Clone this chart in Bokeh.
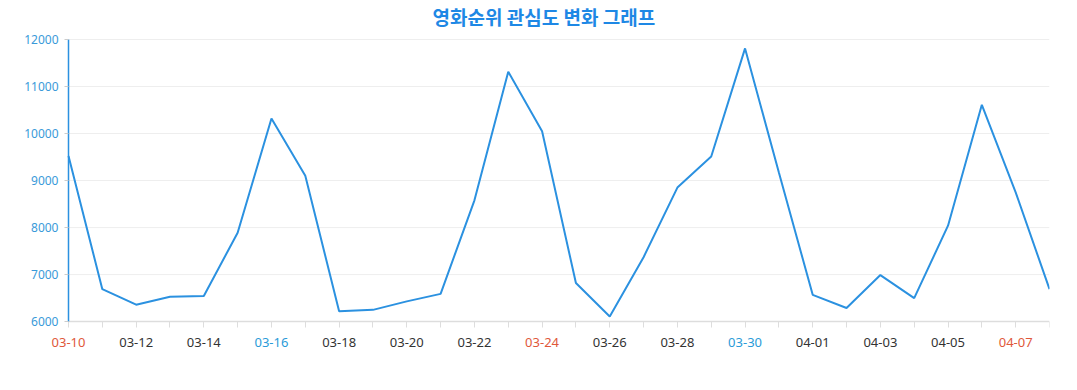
from bokeh.plotting import figure
from bokeh.models import FixedTicker, Range1d, ColumnDataSource
from bokeh.embed import file_html
from bokeh.resources import INLINE

dates = ["03-10", "03-11", "03-12", "03-13", "03-14", "03-15", "03-16", "03-17", "03-18", "03-19",
         "03-20", "03-21", "03-22", "03-23", "03-24", "03-25", "03-26", "03-27", "03-28", "03-29",
         "03-30", "03-31", "04-01", "04-02", "04-03", "04-04", "04-05", "04-06", "04-07", "04-08"]
values = [9520, 6690, 6360, 6530, 6545, 7890, 10320, 9100, 6220, 6250,
          6430, 6590, 8580, 11315, 10050, 6820, 6110, 7370, 8850, 9510,
          11810, 9170, 6570, 6290, 6990, 6500, 8040, 10610, 8750, 6690]
sundays = ["03-10", "03-24", "04-07"]
saturdays = ["03-16", "03-30"]
y_ticks = [6000, 7000, 8000, 9000, 10000, 11000, 12000]

xs = list(range(len(dates)))
y_min, y_max = y_ticks[0], y_ticks[-1]
x_min, x_max = xs[0], xs[-1]

# layout in pixels: axes corner at (68, 321), top tick at 38, right end at 1049
frame_left = 14
frame_top = 28
frame_bottom = 360
px_per_x = (1049 - 68) / (x_max - x_min)
x_start = x_min - (68 - frame_left) / px_per_x
units_per_px = (y_max - y_min) / (321 - 38)
y_start = y_min - (frame_bottom - 321) * units_per_px
y_end = y_max + (38 - frame_top) * units_per_px

p = figure(width=1061, height=374, output_backend="svg", toolbar_location=None,
           x_range=Range1d(x_start, x_max), y_range=Range1d(y_start, y_end),
           min_border_left=frame_left, min_border_right=12, min_border_top=0,
           min_border_bottom=374 - frame_bottom)
p.outline_line_color = None
p.background_fill_color = "white"

p.title.text = "영화순위 관심도 변화 그래프"
p.title.align = "left"
p.title.offset = 364 + (68 - frame_left)
p.title.standoff = 0
p.title.text_font = "Noto Sans CJK KR"
p.title.text_font_size = "19px"
p.title.text_font_style = "bold"
p.title.text_color = "#1e88e5"

# horizontal grid lines spanning the data extent only
p.xgrid.grid_line_color = None
p.ygrid.grid_line_color = None
p.segment(x0=[x_min] * (len(y_ticks) - 1), x1=[x_max] * (len(y_ticks) - 1),
          y0=y_ticks[1:], y1=y_ticks[1:], line_color="#eeeeee", line_width=1)

p.line(xs, values, line_color="#2b91e0", line_width=2)

# y axis placed at first date
p.yaxis.fixed_location = x_min
p.yaxis.ticker = FixedTicker(ticks=y_ticks)
p.yaxis.bounds = (y_min, y_max)
p.yaxis.axis_line_color = "#2b91e0"
p.yaxis.axis_line_width = 1.5
p.yaxis.major_tick_line_color = "#cccccc"
p.yaxis.major_tick_out = 4
p.yaxis.major_tick_in = 0
p.yaxis.minor_tick_line_color = None
p.yaxis.major_label_text_color = "#3a9ad9"
p.yaxis.major_label_text_font = "Noto Sans"
p.yaxis.major_label_text_font_size = "12px"
p.yaxis.major_label_standoff = 6

# x axis placed at y_min
p.xaxis.fixed_location = y_min
p.xaxis.ticker = FixedTicker(ticks=xs)
p.xaxis.bounds = (x_min, x_max)
p.xaxis.axis_line_color = "#dddddd"
p.xaxis.axis_line_width = 1.5
p.xaxis.major_tick_line_color = "#dddddd"
p.xaxis.major_tick_out = 6
p.xaxis.major_tick_in = 0
p.xaxis.minor_tick_line_color = None
p.xaxis.major_label_text_font_size = "0px"
p.xaxis.major_label_text_alpha = 0
p.xaxis.major_label_standoff = 0

lab_x, lab_t, lab_c, lab_y = [], [], [], []
for i, d in enumerate(dates):
    if i % 2 != 0:
        continue
    lab_x.append(xs[i])
    lab_y.append(y_min)
    lab_t.append(d)
    if d in sundays:
        lab_c.append("#e0583a")
    elif d in saturdays:
        lab_c.append("#2a9bd8")
    else:
        lab_c.append("#333333")
src = ColumnDataSource(dict(x=lab_x, y=lab_y, t=lab_t, c=lab_c))
p.text(x="x", y="y", text="t", text_color="c", source=src,
       text_align="center", text_baseline="middle", y_offset=21,
       text_font_size="13px", text_font={"value": "Noto Sans"})

open("out.html", "w").write(file_html(p, INLINE))
